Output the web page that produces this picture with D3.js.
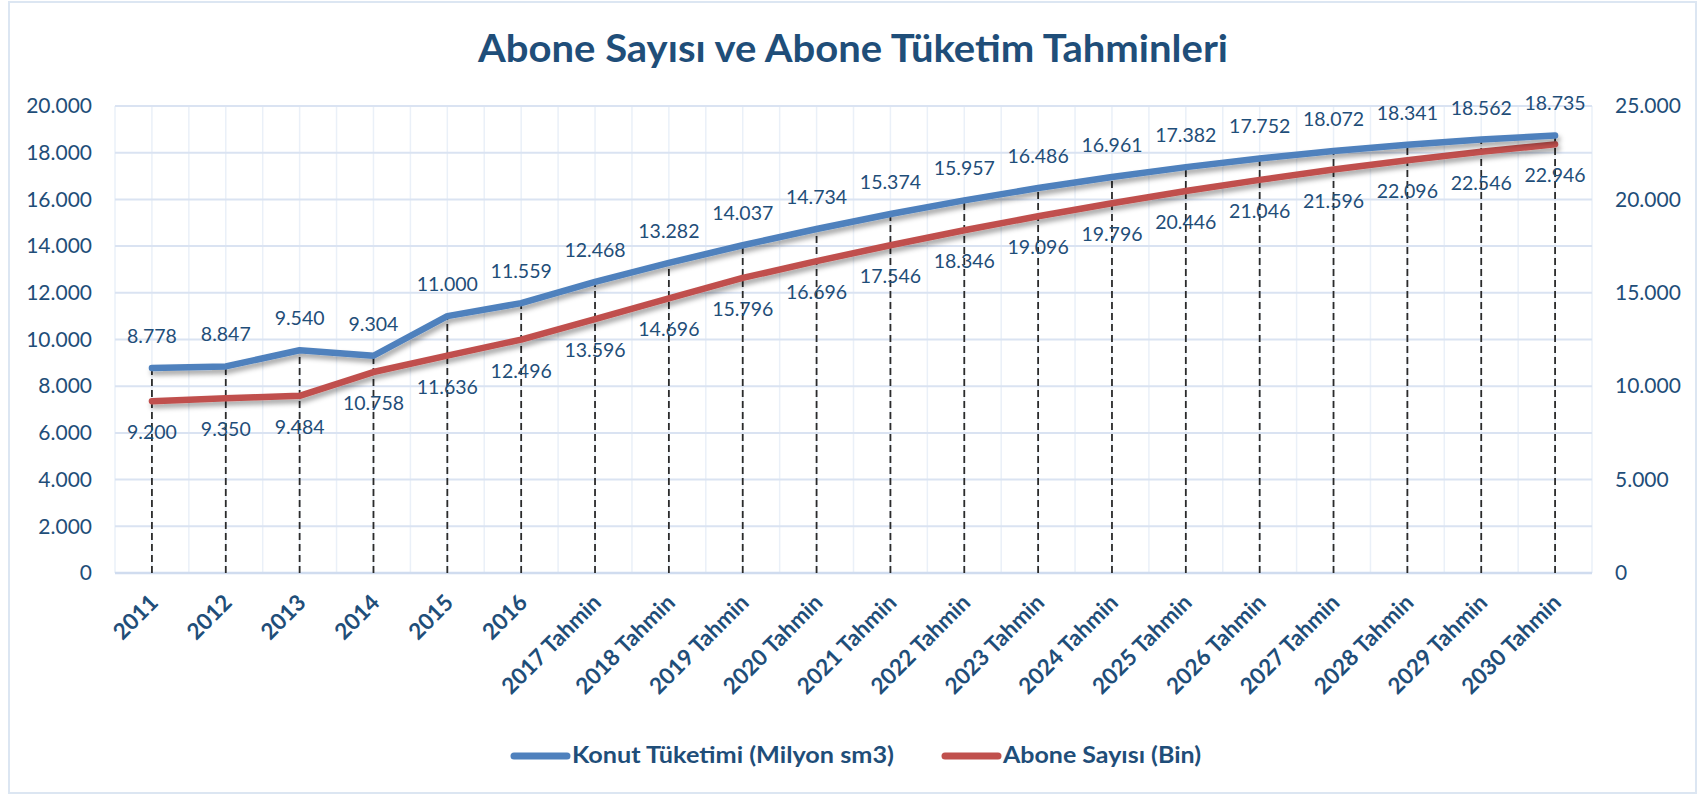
<!DOCTYPE html>
<html>
<head>
<meta charset="utf-8">
<script src="https://cdn.jsdelivr.net/npm/d3@7"></script>
<style>
  html, body { margin: 0; padding: 0; background: #ffffff; }
  svg { display: block; font-family: Lato, "Open Sans", sans-serif; }
</style>
</head>
<body>
<svg id="chart" width="1698" height="795"></svg>
<script>
const categories = ["2011", "2012", "2013", "2014", "2015", "2016",
  "2017 Tahmin", "2018 Tahmin", "2019 Tahmin", "2020 Tahmin", "2021 Tahmin",
  "2022 Tahmin", "2023 Tahmin", "2024 Tahmin", "2025 Tahmin", "2026 Tahmin",
  "2027 Tahmin", "2028 Tahmin", "2029 Tahmin", "2030 Tahmin"];
const consumption = [8778, 8847, 9540, 9304, 11000, 11559, 12468, 13282, 14037, 14734,
  15374, 15957, 16486, 16961, 17382, 17752, 18072, 18341, 18562, 18735];
const subscribers = [9200, 9350, 9484, 10758, 11636, 12496, 13596, 14696, 15796, 16696,
  17546, 18346, 19096, 19796, 20446, 21046, 21596, 22096, 22546, 22946];
const leftTicks = [0, 2000, 4000, 6000, 8000, 10000, 12000, 14000, 16000, 18000, 20000];
const rightTicks = [0, 5000, 10000, 15000, 20000, 25000];
const seriesNames = ["Konut Tüketimi (Milyon sm3)", "Abone Sayısı (Bin)"];
const chartTitle = "Abone Sayısı ve Abone Tüketim Tahminleri";

const W = 1698, H = 795;
const plot = { left: 115, right: 1592, top: 106, bottom: 573 };
const textColor = "#1F4E79";
const blue = "#4F81BD", red = "#C0504D";

const locale = d3.formatLocale({ decimal: ",", thousands: ".", grouping: [3], currency: ["", ""] });
const fmt = locale.format(",d");

const svg = d3.select("#chart");

// shadow filter
const defs = svg.append("defs");
const f = defs.append("filter").attr("id", "shadow").attr("x", "-5%").attr("y", "-20%").attr("width", "110%").attr("height", "160%");
f.append("feDropShadow").attr("dx", 2).attr("dy", 4).attr("stdDeviation", 2.5)
  .attr("flood-color", "#000").attr("flood-opacity", 0.35);

// outer border
svg.append("rect").attr("x", 9).attr("y", 2).attr("width", 1687).attr("height", 791)
  .attr("fill", "#fff").attr("stroke", "#DCE6F2").attr("stroke-width", 2);

const x = d3.scalePoint().domain(categories).range([plot.left, plot.right]).padding(0.5);
const yL = d3.scaleLinear().domain([0, 20000]).range([plot.bottom, plot.top]);
const yR = d3.scaleLinear().domain([0, 25000]).range([plot.bottom, plot.top]);
const step = x.step();

// vertical gridlines at half-category positions
const vx = [];
categories.forEach((c, i) => { vx.push(x(c) - step / 2); vx.push(x(c)); });
vx.push(x(categories[categories.length - 1]) + step / 2);
svg.append("g").selectAll("line").data(vx).join("line")
  .attr("x1", d => d).attr("x2", d => d).attr("y1", plot.top).attr("y2", plot.bottom)
  .attr("stroke", "#EAF0F8").attr("stroke-width", 1.5);

// horizontal gridlines
svg.append("g").selectAll("line").data(leftTicks).join("line")
  .attr("x1", plot.left).attr("x2", plot.right)
  .attr("y1", d => yL(d)).attr("y2", d => yL(d))
  .attr("stroke", d => d === 0 ? "#D0DCEF" : "#DAE3F2").attr("stroke-width", d => d === 0 ? 2.5 : 2);

// axes
const axL = svg.append("g").attr("transform", `translate(${plot.left},0)`)
  .call(d3.axisLeft(yL).tickValues(leftTicks).tickFormat(fmt).tickSize(0).tickPadding(23));
const axR = svg.append("g").attr("transform", `translate(${plot.right},0)`)
  .call(d3.axisRight(yR).tickValues(rightTicks).tickFormat(fmt).tickSize(0).tickPadding(23));
[axL, axR].forEach(a => {
  a.select(".domain").remove();
  a.selectAll("text").attr("fill", textColor).style("font-size", "21px").style("font-family", "Lato");
});

const axB = svg.append("g").attr("transform", `translate(0,${plot.bottom})`)
  .call(d3.axisBottom(x).tickSize(0).tickPadding(0));
axB.select(".domain").remove();
axB.selectAll("text")
  .attr("fill", textColor).style("font-size", "22.5px").style("font-weight", "700").style("font-family", "Lato")
  .attr("text-anchor", "end").attr("dy", "0").attr("y", 0)
  .attr("transform", "translate(7,31) rotate(-45)");

// drop lines
svg.append("g").selectAll("line").data(categories).join("line")
  .attr("x1", d => x(d)).attr("x2", d => x(d))
  .attr("y1", plot.bottom)
  .attr("y2", (d, i) => Math.min(yL(consumption[i]), yR(subscribers[i])))
  .attr("stroke", "#2b2b2b").attr("stroke-width", 1.8).attr("stroke-dasharray", "7,4");

// lines
const lineL = d3.line().x((d, i) => x(categories[i])).y(d => yL(d));
const lineR = d3.line().x((d, i) => x(categories[i])).y(d => yR(d));
svg.append("path").datum(subscribers).attr("d", lineR).attr("fill", "none")
  .attr("stroke", red).attr("stroke-width", 6.5).attr("stroke-linejoin", "round").attr("stroke-linecap", "round")
  .attr("filter", "url(#shadow)");
svg.append("path").datum(consumption).attr("d", lineL).attr("fill", "none")
  .attr("stroke", blue).attr("stroke-width", 6.5).attr("stroke-linejoin", "round").attr("stroke-linecap", "round")
  .attr("filter", "url(#shadow)");

// data labels
svg.append("g").selectAll("text").data(consumption).join("text")
  .attr("x", (d, i) => x(categories[i])).attr("y", d => yL(d) - 30)
  .attr("text-anchor", "middle").attr("dominant-baseline", "middle")
  .attr("fill", textColor).style("font-size", "19.5px").text(d => fmt(d));
svg.append("g").selectAll("text").data(subscribers).join("text")
  .attr("x", (d, i) => x(categories[i])).attr("y", d => yR(d) + 33)
  .attr("text-anchor", "middle").attr("dominant-baseline", "middle")
  .attr("fill", textColor).style("font-size", "19.5px").text(d => fmt(d));

// title
svg.append("text").attr("x", 853).attr("y", 62).attr("text-anchor", "middle")
  .attr("fill", textColor).style("font-size", "38px").style("font-weight", "700")
  .attr("textLength", 750).attr("lengthAdjust", "spacingAndGlyphs")
  .text(chartTitle);

// legend
const legendItems = [
  { name: seriesNames[0], color: blue, x0: 514, tx: 572, tw: 322 },
  { name: seriesNames[1], color: red, x0: 945, tx: 1003, tw: 198 }
];
const lg = svg.append("g");
legendItems.forEach(it => {
  lg.append("line").attr("x1", it.x0).attr("x2", it.x0 + 53).attr("y1", 756).attr("y2", 756)
    .attr("stroke", it.color).attr("stroke-width", 7).attr("stroke-linecap", "round");
  lg.append("text").attr("x", it.tx).attr("y", 757).attr("dominant-baseline", "middle")
    .attr("fill", textColor).style("font-size", "22px").style("font-weight", "700")
    .attr("textLength", it.tw).attr("lengthAdjust", "spacingAndGlyphs")
    .text(it.name);
});
</script>
</body>
</html>
